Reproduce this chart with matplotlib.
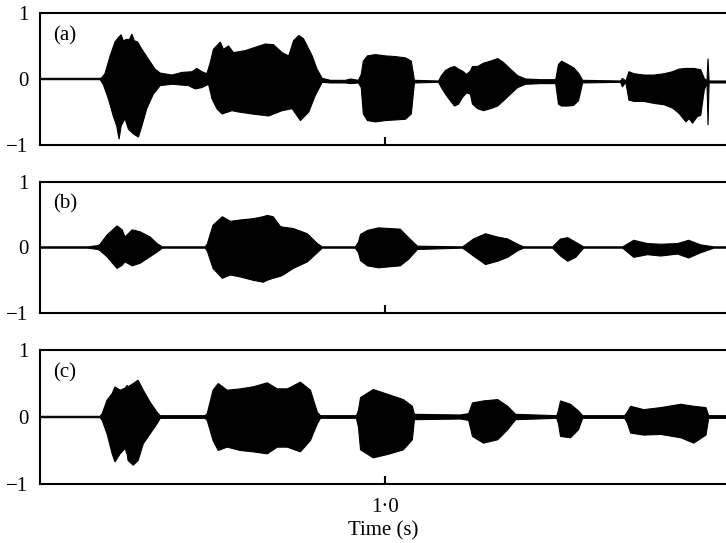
import matplotlib
matplotlib.use("Agg")
import matplotlib.pyplot as plt

# ---- data: upper / lower envelope of each waveform (time in s, amplitude) ----
# panel (a)
a_top_t = [0.000, 0.174, 0.179, 0.188, 0.203, 0.217, 0.227, 0.235, 0.241, 0.251, 0.259, 0.266, 0.273,
           0.283, 0.295, 0.314, 0.333, 0.348, 0.382, 0.411, 0.440, 0.454, 0.469, 0.483, 0.493, 0.502,
           0.522, 0.531, 0.546, 0.560, 0.594, 0.623, 0.652, 0.676, 0.701, 0.720, 0.734, 0.749, 0.763,
           0.788, 0.802, 0.817, 0.841, 0.884, 0.899, 0.922, 0.930, 0.936, 0.948, 0.971, 1.000, 1.029,
           1.058, 1.075, 1.084, 1.154, 1.162, 1.174, 1.188, 1.200, 1.212, 1.223, 1.235, 1.246, 1.252,
           1.267, 1.284, 1.304, 1.325, 1.342, 1.362, 1.383, 1.406, 1.449, 1.493, 1.501, 1.510, 1.528,
           1.545, 1.559, 1.571, 1.681, 1.686, 1.696, 1.705, 1.720, 1.749, 1.778, 1.807, 1.831, 1.850,
           1.870, 1.894, 1.913, 1.923, 1.931, 1.934, 1.937, 1.942, 1.986]
a_top = [0.01, 0.01, 0.02, 0.08, 0.35, 0.56, 0.63, 0.67, 0.58, 0.60, 0.60, 0.68, 0.58,
         0.56, 0.45, 0.30, 0.15, 0.09, 0.06, 0.10, 0.11, 0.16, 0.11, 0.08, 0.25, 0.45,
         0.56, 0.45, 0.50, 0.40, 0.43, 0.48, 0.53, 0.52, 0.40, 0.35, 0.58, 0.66, 0.61,
         0.35, 0.15, 0.01, -0.02, -0.02, 0.00, -0.02, 0.07, 0.27, 0.35, 0.37, 0.35, 0.34,
         0.32, 0.27, -0.02, -0.03, 0.05, 0.13, 0.17, 0.19, 0.15, 0.12, 0.07, 0.12, 0.19,
         0.19, 0.24, 0.27, 0.31, 0.25, 0.15, 0.05, 0.00, -0.01, -0.01, 0.22, 0.27, 0.22,
         0.17, 0.09, -0.02, -0.03, 0.01, -0.03, 0.11, 0.08, 0.06, 0.06, 0.08, 0.11, 0.15,
         0.16, 0.16, 0.14, 0.01, -0.03, 0.31, -0.03, -0.03, -0.03]
a_bot_t = [0.000, 0.174, 0.183, 0.198, 0.212, 0.222, 0.229, 0.235, 0.246, 0.256, 0.270, 0.285, 0.295,
           0.309, 0.328, 0.348, 0.382, 0.430, 0.449, 0.469, 0.488, 0.498, 0.512, 0.527, 0.556, 0.575,
           0.614, 0.662, 0.701, 0.730, 0.754, 0.778, 0.797, 0.817, 0.841, 0.884, 0.899, 0.922, 0.930,
           0.936, 0.948, 0.971, 1.000, 1.029, 1.058, 1.075, 1.084, 1.154, 1.162, 1.174, 1.188, 1.200,
           1.212, 1.223, 1.235, 1.246, 1.252, 1.267, 1.284, 1.304, 1.325, 1.342, 1.362, 1.383, 1.406,
           1.449, 1.493, 1.501, 1.510, 1.528, 1.545, 1.559, 1.571, 1.681, 1.686, 1.696, 1.705, 1.720,
           1.749, 1.778, 1.807, 1.831, 1.850, 1.870, 1.879, 1.889, 1.903, 1.913, 1.923, 1.931, 1.934,
           1.937, 1.942, 1.986]
a_bot = [-0.01, -0.01, -0.08, -0.30, -0.56, -0.71, -0.91, -0.71, -0.60, -0.76, -0.83, -0.88, -0.71,
         -0.45, -0.23, -0.10, -0.08, -0.10, -0.15, -0.13, -0.08, -0.30, -0.45, -0.53, -0.48, -0.50,
         -0.53, -0.56, -0.48, -0.45, -0.63, -0.50, -0.25, -0.05, -0.06, -0.06, -0.07, -0.06, -0.13,
         -0.53, -0.63, -0.65, -0.63, -0.62, -0.61, -0.53, -0.06, -0.05, -0.13, -0.23, -0.33, -0.41,
         -0.38, -0.28, -0.21, -0.23, -0.38, -0.45, -0.48, -0.45, -0.41, -0.33, -0.23, -0.13, -0.08,
         -0.07, -0.07, -0.38, -0.41, -0.41, -0.40, -0.33, -0.06, -0.05, -0.12, -0.05, -0.32, -0.34,
         -0.34, -0.37, -0.39, -0.44, -0.52, -0.65, -0.60, -0.67, -0.57, -0.55, -0.17, -0.06, -0.70,
         -0.06, -0.06, -0.06]

# panel (b)
b_t = [0.000, 0.139, 0.168, 0.174, 0.194, 0.223, 0.238, 0.246, 0.267, 0.290, 0.319, 0.339, 0.354,
       0.478, 0.484, 0.501, 0.528, 0.551, 0.580, 0.617, 0.646, 0.658, 0.675, 0.696, 0.704, 0.733,
       0.774, 0.803, 0.817, 0.913, 0.922, 0.928, 0.948, 0.980, 1.043, 1.067, 1.093, 1.223, 1.232,
       1.255, 1.290, 1.325, 1.354, 1.383, 1.400, 1.484, 1.507, 1.528, 1.551, 1.574, 1.687, 1.719,
       1.759, 1.797, 1.846, 1.878, 1.913, 1.951, 1.986]
b_up = [0.01, 0.01, 0.03, 0.05, 0.19, 0.33, 0.27, 0.16, 0.27, 0.24, 0.16, 0.06, 0.01,
        0.01, 0.05, 0.34, 0.47, 0.40, 0.42, 0.44, 0.47, 0.49, 0.47, 0.32, 0.31, 0.29,
        0.21, 0.06, 0.01, 0.01, 0.08, 0.20, 0.26, 0.30, 0.28, 0.15, 0.02, 0.01, 0.04,
        0.13, 0.21, 0.16, 0.13, 0.05, 0.01, 0.01, 0.13, 0.15, 0.08, 0.01, 0.01, 0.11,
        0.06, 0.05, 0.06, 0.11, 0.04, 0.01, 0.01]
b_lo = [-0.01, -0.01, -0.03, -0.05, -0.14, -0.32, -0.27, -0.22, -0.28, -0.24, -0.14, -0.07, -0.01,
        -0.01, -0.05, -0.32, -0.47, -0.42, -0.45, -0.50, -0.53, -0.50, -0.47, -0.44, -0.42, -0.32,
        -0.22, -0.08, -0.01, -0.01, -0.08, -0.20, -0.28, -0.31, -0.28, -0.18, -0.03, -0.01, -0.04,
        -0.13, -0.26, -0.21, -0.15, -0.05, -0.01, -0.01, -0.13, -0.21, -0.15, -0.01, -0.01, -0.15,
        -0.11, -0.13, -0.10, -0.16, -0.08, -0.01, -0.01]

# panel (c)
c_t = [0.000, 0.174, 0.180, 0.194, 0.209, 0.217, 0.232, 0.246, 0.252, 0.255, 0.270, 0.284, 0.299,
       0.319, 0.339, 0.348, 0.478, 0.484, 0.501, 0.516, 0.542, 0.580, 0.617, 0.658, 0.687, 0.716,
       0.754, 0.783, 0.803, 0.812, 0.916, 0.922, 0.928, 0.965, 1.006, 1.052, 1.078, 1.084, 1.217,
       1.241, 1.252, 1.284, 1.325, 1.354, 1.377, 1.496, 1.501, 1.507, 1.536, 1.559, 1.571, 1.693,
       1.701, 1.710, 1.748, 1.797, 1.855, 1.893, 1.928, 1.936, 1.986]
c_up = [0.01, 0.01, 0.05, 0.25, 0.35, 0.45, 0.40, 0.43, 0.47, 0.45, 0.50, 0.55, 0.40,
        0.22, 0.07, 0.02, 0.02, 0.05, 0.40, 0.50, 0.40, 0.42, 0.45, 0.51, 0.42, 0.42,
        0.52, 0.40, 0.07, 0.02, 0.02, 0.10, 0.29, 0.41, 0.34, 0.26, 0.16, 0.04, 0.03,
        0.05, 0.21, 0.24, 0.26, 0.16, 0.04, 0.02, 0.10, 0.24, 0.19, 0.09, 0.02, 0.02,
        0.08, 0.16, 0.11, 0.14, 0.19, 0.16, 0.14, 0.02, 0.02]
c_lo = [-0.01, -0.01, -0.05, -0.25, -0.55, -0.67, -0.55, -0.47, -0.55, -0.65, -0.72, -0.65, -0.40,
        -0.25, -0.10, -0.02, -0.02, -0.05, -0.35, -0.50, -0.45, -0.50, -0.52, -0.55, -0.45, -0.45,
        -0.52, -0.35, -0.10, -0.02, -0.02, -0.15, -0.49, -0.61, -0.56, -0.49, -0.34, -0.04, -0.03,
        -0.05, -0.29, -0.39, -0.34, -0.19, -0.04, -0.02, -0.10, -0.29, -0.31, -0.19, -0.02, -0.02,
        -0.10, -0.24, -0.27, -0.26, -0.31, -0.39, -0.27, -0.02, -0.02]

panel_labels = ["(a)", "(b)", "(c)"]
y_ticks = [-1, 0, 1]
y_ticklabels = ["\u22121", "0", "1"]
x_ticks = [1.0]
x_ticklabels = ["1\u00b70"]
x_label = "Time (s)"

# ---- figure ----
plt.rcParams["font.family"] = ["Liberation Serif", "DejaVu Serif"]
FS = 15
fig = plt.figure(figsize=(7.26, 5.43), dpi=100)

left = 40 / 726
width = 1.0 - left
rects = [(1 - 145 / 543, 132 / 543), (1 - 313 / 543, 131 / 543), (1 - 484 / 543, 134 / 543)]
series = [(a_top_t, a_top, a_bot_t, a_bot),
          (b_t, b_up, b_t, b_lo),
          (c_t, c_up, c_t, c_lo)]

for i, ((bottom, h), (tt, up, bt, lo)) in enumerate(zip(rects, series)):
    ax = fig.add_axes([left, bottom, width, h])
    xs = list(tt) + list(bt)[::-1]
    ys = list(up) + list(lo)[::-1]
    ax.fill(xs, ys, facecolor="black", edgecolor="black", linewidth=0.8)
    ax.set_xlim(0, 1.986)
    ax.set_ylim(-1, 1)
    ax.set_yticks(y_ticks)
    ax.set_yticklabels(y_ticklabels, fontsize=FS)
    ax.set_xticks(x_ticks)
    if i == 2:
        ax.set_xticklabels(x_ticklabels, fontsize=FS)
        ax.set_xlabel(x_label, fontsize=FS, labelpad=3)
    else:
        ax.set_xticklabels([])
    ax.tick_params(axis="y", length=0, pad=8.5)
    ax.tick_params(axis="x", direction="in", length=6, width=1.5, pad=10)
    for s in ["top", "bottom", "left"]:
        ax.spines[s].set_linewidth(1.5)
    ax.spines["right"].set_visible(False)
    ax.text(0.019, 0.83, panel_labels[i], transform=ax.transAxes, fontsize=FS,
            ha="left", va="center")

fig.savefig("out.png", dpi=100)
